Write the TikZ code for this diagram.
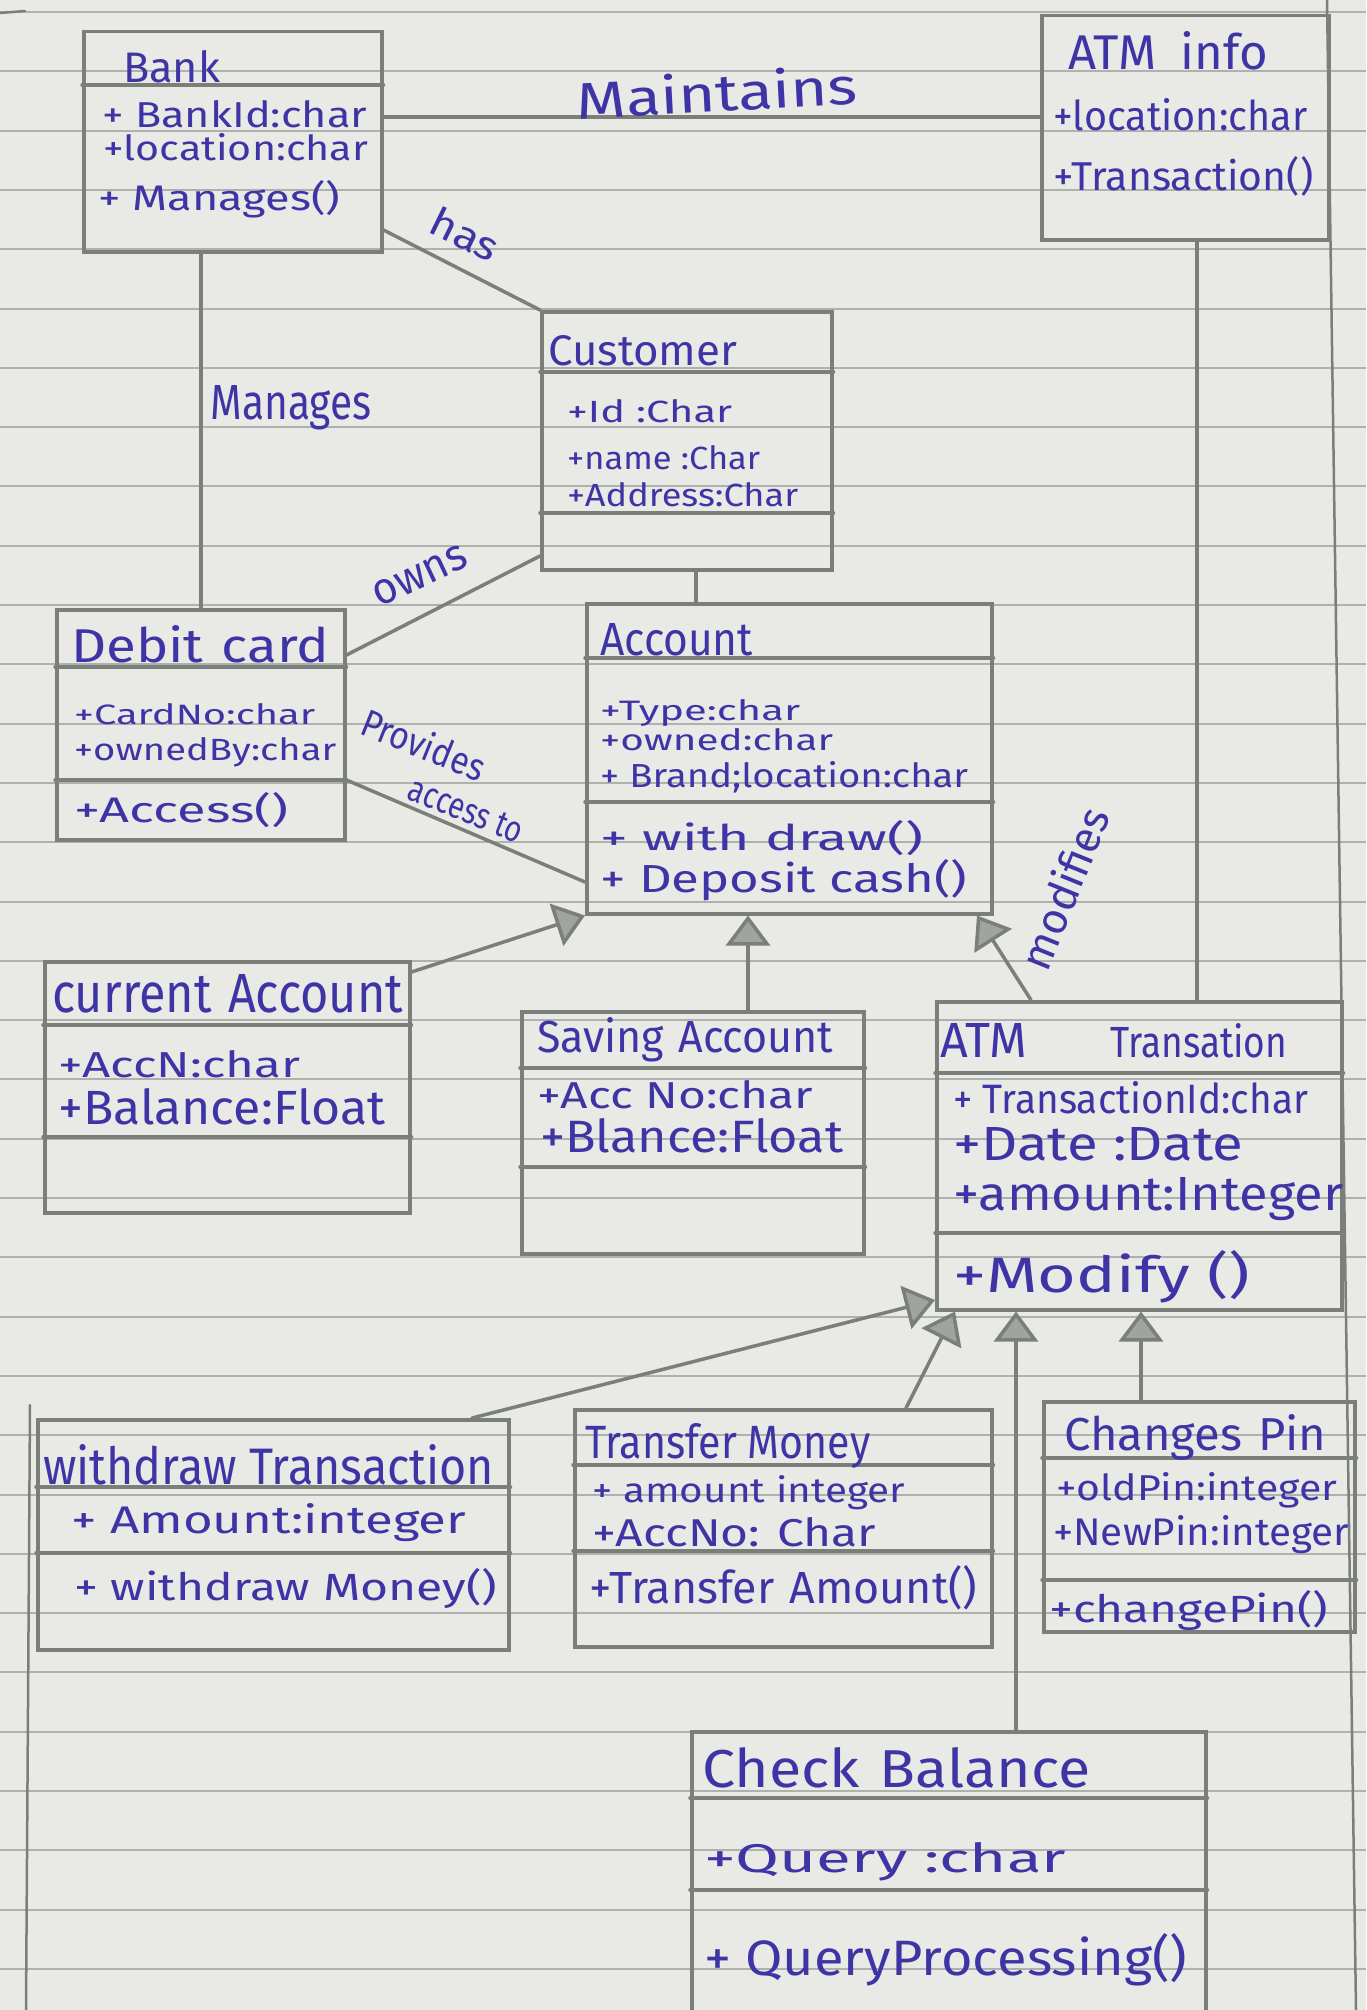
\documentclass[tikz,border=0pt]{standalone}
\usepackage{fontspec}
\setmainfont{Fira Sans}
\usepackage{graphicx}
\usetikzlibrary{arrows.meta}
\definecolor{paper}{RGB}{233,233,230}
\definecolor{ruled}{RGB}{174,177,173}
\definecolor{pencil}{RGB}{122,127,122}
\definecolor{ink}{RGB}{62,52,165}
\definecolor{arrfill}{RGB}{160,164,158}
\newcommand\hw[3]{\resizebox{#1pt}{#2pt}{#3}}
\begin{document}
\begin{tikzpicture}[x=1pt,y=-1pt,
  pline/.style={draw=pencil,line width=3.5pt,line cap=round},
  rline/.style={draw=ruled,line width=2pt},
  cls/.style={draw=pencil,line width=3.5pt,inner sep=0pt,anchor=north west},
  txt/.style={text=ink,inner sep=0pt,anchor=base west},
  lbl/.style={text=ink,inner sep=0pt},
  gen/.style={pline,-{Triangle[length=30pt,width=44pt,fill=arrfill]}}]

\fill[paper] (0,0) rectangle (1366,2010);
\useasboundingbox (0,0) rectangle (1366,2010);

% ruled paper
\foreach \k in {0,...,33} {\draw[rline] (0,12+59.3*\k) -- (1366,12+59.3*\k);}
\draw[pline,line width=2.5pt] (1327,0) -- (1356,2010);
\draw[pline,line width=2.5pt] (30,1405) -- (26,2010);
\draw[pline,line width=2.5pt] (0,13) -- (25,11);

% class boxes
\node[cls,minimum width=298pt,minimum height=220pt] (bank) at (82,30) {};
\node[cls,minimum width=287pt,minimum height=224pt] (atminfo) at (1040,14) {};
\node[cls,minimum width=290pt,minimum height=258pt] (customer) at (540,310) {};
\node[cls,minimum width=288pt,minimum height=230pt] (debit) at (55,608) {};
\node[cls,minimum width=405pt,minimum height=310pt] (account) at (585,602) {};
\node[cls,minimum width=365pt,minimum height=251pt] (current) at (43,960) {};
\node[cls,minimum width=342pt,minimum height=242pt] (saving) at (520,1010) {};
\node[cls,minimum width=405pt,minimum height=308pt] (atmtr) at (935,1000) {};
\node[cls,minimum width=471pt,minimum height=230pt] (withdraw) at (36,1418) {};
\node[cls,minimum width=417pt,minimum height=237pt] (transfer) at (573,1408) {};
\node[cls,minimum width=311pt,minimum height=230pt] (changes) at (1042,1400) {};
\node[cls,minimum width=514pt,minimum height=310pt] (check) at (690,1730) {};

% compartment dividers
\draw[pline] (bank.west |- 0,85) -- (bank.east |- 0,85);
\draw[pline] (customer.west |- 0,372) -- (customer.east |- 0,372);
\draw[pline] (customer.west |- 0,513) -- (customer.east |- 0,513);
\draw[pline] (debit.west |- 0,667) -- (debit.east |- 0,667);
\draw[pline] (debit.west |- 0,780) -- (debit.east |- 0,780);
\draw[pline] (account.west |- 0,658) -- (account.east |- 0,658);
\draw[pline] (account.west |- 0,802) -- (account.east |- 0,802);
\draw[pline] (current.west |- 0,1025) -- (current.east |- 0,1025);
\draw[pline] (current.west |- 0,1137) -- (current.east |- 0,1137);
\draw[pline] (saving.west |- 0,1068) -- (saving.east |- 0,1068);
\draw[pline] (saving.west |- 0,1167) -- (saving.east |- 0,1167);
\draw[pline] (atmtr.west |- 0,1073) -- (atmtr.east |- 0,1073);
\draw[pline] (atmtr.west |- 0,1233) -- (atmtr.east |- 0,1233);
\draw[pline] (withdraw.west |- 0,1487) -- (withdraw.east |- 0,1487);
\draw[pline] (withdraw.west |- 0,1553) -- (withdraw.east |- 0,1553);
\draw[pline] (transfer.west |- 0,1465) -- (transfer.east |- 0,1465);
\draw[pline] (transfer.west |- 0,1551) -- (transfer.east |- 0,1551);
\draw[pline] (changes.west |- 0,1458) -- (changes.east |- 0,1458);
\draw[pline] (changes.west |- 0,1580) -- (changes.east |- 0,1580);
\draw[pline] (check.west |- 0,1798) -- (check.east |- 0,1798);
\draw[pline] (check.west |- 0,1890) -- (check.east |- 0,1890);

% texts (anchor = baseline, left)
\node[txt] (bankT) at (123,82) {\hw{97}{32}{Bank}};
\node[txt] (bankA) at (102,127) {\hw{265}{27}{+ BankId:char}};
\node[txt] (bankB) at (103,160) {\hw{265}{27}{+location:char}};
\node[txt] (bankM) at (98,210) {\hw{242}{30}{+ Manages()}};

\node[txt] (atmiT) at (1068,70) {\hw{200}{38}{ATM\,\,\,info}};
\node[txt] (atmiA) at (1053,130) {\hw{254}{32}{+location:char}};
\node[txt] (atmiM) at (1053,190) {\hw{260}{34}{+Transaction()}};

\node[txt] (custT) at (548,365) {\hw{189}{30}{Customer}};
\node[txt] (custA) at (567,422) {\hw{165}{23}{+Id :Char}};
\node[txt] (custB) at (567,469) {\hw{193}{24}{+name :Char}};
\node[txt] (custC) at (567,506) {\hw{231}{24}{+Address:Char}};

\node[txt] (debT) at (71,662) {\hw{258}{37}{Debit\,\,card}};
\node[txt] (debA) at (74,724) {\hw{241}{21}{+CardNo:char}};
\node[txt] (debB) at (74,760) {\hw{262}{23}{+ownedBy:char}};
\node[txt] (debM) at (74,822) {\hw{214}{30}{+Access()}};

\node[txt] (accT) at (600,655) {\hw{153}{32}{Account}};
\node[txt] (accA) at (600,720) {\hw{200}{21}{+Type:char}};
\node[txt] (accB) at (600,750) {\hw{233}{22}{+owned:char}};
\node[txt] (accC) at (600,787) {\hw{368}{26}{+ Brand;location:char}};
\node[txt] (accM) at (600,850) {\hw{323}{30}{+ with draw()}};
\node[txt] (accN) at (600,892) {\hw{367}{33}{+ Deposit cash()}};

\node[txt] (curT) at (52,1012) {\hw{351}{38}{current\,\,Account}};
\node[txt] (curA) at (58,1077) {\hw{242}{27}{+AccN:char}};
\node[txt] (curB) at (58,1124) {\hw{327}{36}{+Balance:Float}};

\node[txt] (savT) at (537,1052) {\hw{296}{35}{Saving\,\,Account}};
\node[txt] (savA) at (537,1108) {\hw{276}{28}{+Acc No:char}};
\node[txt] (savB) at (540,1152) {\hw{303}{34}{+Blance:Float}};

\node[txt] (trT) at (940,1057) {\hw{87}{34}{ATM}};
\node[txt] (trU) at (1110,1057) {\hw{177}{34}{Transation}};
\node[txt] (trA) at (953,1113) {\hw{355}{32}{+ TransactionId:char}};
\node[txt] (trB) at (953,1160) {\hw{290}{33}{+Date :Date}};
\node[txt] (trC) at (953,1210) {\hw{390}{33}{+amount:Integer}};
\node[txt] (trM) at (953,1292) {\hw{297}{42}{+Modify ()}};

\node[txt] (wdT) at (43,1484) {\hw{451}{40}{withdraw Transaction}};
\node[txt] (wdA) at (71,1533) {\hw{395}{30}{+ Amount:integer}};
\node[txt] (wdM) at (74,1600) {\hw{423}{32}{+ withdraw Money()}};

\node[txt] (tfT) at (585,1458) {\hw{285}{35}{Transfer Money}};
\node[txt] (tfA) at (592,1502) {\hw{313}{27}{+ amount integer}};
\node[txt] (tfB) at (592,1546) {\hw{284}{29}{+AccNo: Char}};
\node[txt] (tfM) at (589,1603) {\hw{388}{38}{+Transfer\,\,Amount()}};

\node[txt] (cpT) at (1064,1450) {\hw{262}{36}{Changes\,\,Pin}};
\node[txt] (cpA) at (1056,1500) {\hw{281}{28}{+oldPin:integer}};
\node[txt] (cpB) at (1053,1545) {\hw{296}{30}{+NewPin:integer}};
\node[txt] (cpM) at (1049,1622) {\hw{279}{32}{+changePin()}};

\node[txt] (cbT) at (702,1787) {\hw{388}{40}{Check\,\,Balance}};
\node[txt] (cbA) at (704,1872) {\hw{362}{30}{+Query :char}};
\node[txt] (cbM) at (704,1975) {\hw{483}{42}{+ QueryProcessing()}};

% associations
\draw[pline] (bank.east |- 0,117) -- (atminfo.west |- 0,117);
\draw[pline] (bank.east |- 0,230) -- (customer.north west);
\draw[pline] (bank.south -| 201,0) -- (debit.north -| 201,0);
\draw[pline] (debit.east |- 0,655) -- (customer.west |- 0,556);
\draw[pline] (debit.east |- 0,780) -- (account.west |- 0,882);
\draw[pline] (customer.south -| 696,0) -- (account.north -| 696,0);
\draw[pline] (atminfo.south -| 1197,0) -- (atmtr.north -| 1197,0);

% generalizations
\draw[gen] (current.east |- 0,972) -- (account.south west);
\draw[gen] (saving.north -| 748,0) -- (account.south -| 748,0);
\draw[gen] (atmtr.north -| 1031,0) -- (account.south -| 977,0);
\draw[gen] (withdraw.north -| 472,0) -- (atmtr.west |- 0,1300);
\draw[gen] (transfer.north -| 906,0) -- (atmtr.south -| 955,0);
\draw[gen] (check.north -| 1016,0) -- (atmtr.south -| 1016,0);
\draw[gen] (changes.north -| 1141,0) -- (atmtr.south -| 1141,0);

% association labels
\node[lbl,rotate=3] (lmaint) at (717,92) {\hw{281}{40}{Maintains}};
\node[lbl,rotate=-26] (lhas) at (465,234) {\hw{72}{30}{has}};
\node[lbl] (lman) at (291,408) {\hw{161}{34}{Manages}};
\node[lbl,rotate=25] (lowns) at (420,576) {\hw{100}{24}{owns}};
\node[lbl,rotate=-22] (lprov) at (424,744) {\hw{130}{30}{Provides}};
\node[lbl,rotate=-22] (lacc) at (466,810) {\hw{120}{24}{access to}};
\node[lbl,rotate=68] (lmod) at (1064,888) {\hw{170}{34}{modifies}};
\end{tikzpicture}
\end{document}
